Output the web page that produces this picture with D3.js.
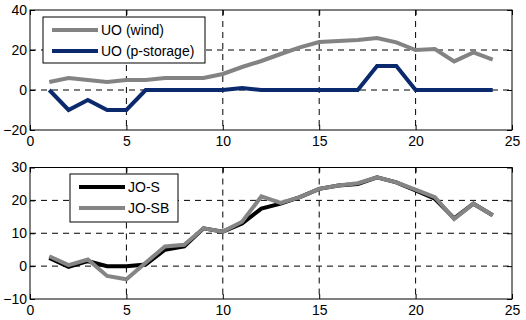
<!DOCTYPE html>
<html>
<head>
<meta charset="utf-8">
<script src="https://cdn.jsdelivr.net/npm/d3@7"></script>
<style>
  body { margin: 0; background: #fff; }
  text { font-family: "Liberation Sans", Arial, sans-serif; }
</style>
</head>
<body>
<div id="chart"></div>
<script>
const hours = d3.range(1, 25);
const uoWind = [4, 6, 5, 4, 5, 5, 6, 6, 6, 8, 11.5, 14.5, 18, 21.3, 24, 24.5, 25, 26, 23.8, 20, 20.5, 14.3, 18.8, 15.2];
const uoStorage = [0, -10, -5, -10, -10, 0, 0, 0, 0, 0, 1, 0, 0, 0, 0, 0, 0, 12, 12, 0, 0, 0, 0, 0];
const joS = [2.5, -0.2, 1.5, 0, 0, 0.5, 5, 6, 11.5, 10.5, 13, 17.5, 19, 21, 23.5, 24.5, 25, 27, 25.5, 23, 20.5, 14.5, 19, 15.5];
const joSB = [3, 0.3, 2, -3, -4, 1, 6, 6.5, 11.5, 10.5, 13.5, 21.2, 19.2, 21, 23.5, 24.5, 25.2, 27, 25.5, 23.3, 21, 14.3, 19, 15.5];
const xTicks = [0, 5, 10, 15, 20, 25];
const topTicks = [-20, 0, 20, 40];
const botTicks = [-10, 0, 10, 20, 30];

const width = 526, height = 320;
const svg = d3.select("#chart").append("svg")
  .attr("width", width).attr("height", height);

const x = d3.scaleLinear().domain([0, 25]).range([30, 512]);

function panel(top, bottom, yDomain, yTicks, series, legend) {
  const y = d3.scaleLinear().domain(yDomain).range([bottom, top]);
  const g = svg.append("g");

  // grid
  g.selectAll(".vg").data(xTicks.slice(1, -1)).enter().append("line")
    .attr("x1", d => x(d)).attr("x2", d => x(d))
    .attr("y1", top).attr("y2", bottom)
    .attr("stroke", "#000").attr("stroke-width", 1).attr("stroke-dasharray", "6,5");
  g.selectAll(".hg").data(yTicks.slice(1, -1)).enter().append("line")
    .attr("x1", x(0)).attr("x2", x(25))
    .attr("y1", d => y(d)).attr("y2", d => y(d))
    .attr("stroke", "#000").attr("stroke-width", 1).attr("stroke-dasharray", "6,5");

  const line = d3.line().x((d, i) => x(hours[i])).y(d => y(d));
  series.forEach(s => {
    g.append("path").datum(s.values)
      .attr("d", line).attr("fill", "none")
      .attr("stroke", s.color).attr("stroke-width", 4)
      .attr("stroke-linejoin", "miter");
  });

  // box
  g.append("rect").attr("x", x(0)).attr("y", top)
    .attr("width", x(25) - x(0)).attr("height", bottom - top)
    .attr("fill", "none").attr("stroke", "#000").attr("stroke-width", 1);

  // ticks
  const xAxis = d3.axisBottom(x).tickValues(xTicks).tickSize(-5).tickPadding(6).tickFormat(d3.format("d"));
  const ax = g.append("g").attr("transform", `translate(0,${bottom})`).call(xAxis);
  ax.select(".domain").remove();
  const yAxis = d3.axisLeft(y).tickValues(yTicks).tickSize(-5).tickPadding(3).tickFormat(d3.format("d"));
  const ay = g.append("g").attr("transform", `translate(${x(0)},0)`).call(yAxis);
  ay.select(".domain").remove();
  // right/top ticks
  const ax2 = g.append("g").attr("transform", `translate(0,${top})`)
    .call(d3.axisTop(x).tickValues(xTicks).tickSize(-5).tickFormat(""));
  ax2.select(".domain").remove();
  const ay2 = g.append("g").attr("transform", `translate(${x(25)},0)`)
    .call(d3.axisRight(y).tickValues(yTicks).tickSize(-5).tickFormat(""));
  ay2.select(".domain").remove();
  g.selectAll(".tick text").attr("font-size", 14).attr("fill", "#000")
    .attr("font-family", "'Liberation Sans', Arial, sans-serif");
  g.selectAll(".tick line").attr("stroke", "#000");

  // legend
  const lg = g.append("g");
  lg.append("rect").attr("x", legend.x).attr("y", legend.y)
    .attr("width", legend.w).attr("height", legend.h)
    .attr("fill", "#fff").attr("stroke", "#000").attr("stroke-width", 1);
  series.forEach((s, i) => {
    const ly = legend.y + 13 + i * 21;
    lg.append("line").attr("x1", legend.x + 9).attr("x2", legend.x + 55)
      .attr("y1", ly).attr("y2", ly)
      .attr("stroke", s.color).attr("stroke-width", 4);
    lg.append("text").attr("x", legend.x + 58).attr("y", ly + 5)
      .attr("font-size", 14).text(s.name);
  });
}

panel(10, 130, [-20, 40], topTicks, [
  { name: "UO (wind)", values: uoWind, color: "#838383" },
  { name: "UO (p-storage)", values: uoStorage, color: "#0b2a6e" }
], { x: 43, y: 17, w: 162, h: 46 });

panel(167.5, 299, [-10, 30], botTicks, [
  { name: "JO-S", values: joS, color: "#000000" },
  { name: "JO-SB", values: joSB, color: "#858585" }
], { x: 70, y: 174, w: 108, h: 48 });
</script>
</body>
</html>
